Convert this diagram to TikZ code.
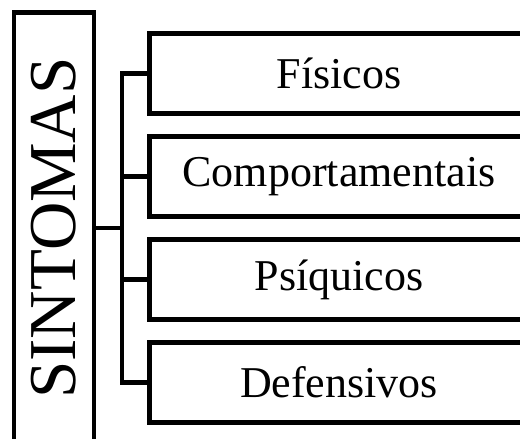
\documentclass[tikz,border=0pt]{standalone}
\usepackage{fontspec}
\setmainfont{Liberation Serif}
\usetikzlibrary{positioning}

\tikzset{caixa/.style={draw,line width=4.5bp,minimum width=379bp,minimum height=80bp,inner sep=0pt,font=\fontsize{44bp}{50bp}\selectfont}}

\begin{document}
\begin{tikzpicture}[x=1bp,y=1bp,line width=4.5bp]
\useasboundingbox (0,0) rectangle (520,439);
\node (sint) at (54,211)[draw,minimum width=80bp,minimum height=431bp,inner sep=0pt,font=\fontsize{67bp}{70bp}\selectfont]{\rotatebox{90}{SINTOMAS}};

\node (fis) at (339,365.5)[caixa]{Físicos};
\node (com) at (339,262.5)[caixa]{Comportamentais};
\node (psi) at (339,159.5)[caixa]{Psíquicos};
\node (def) at (339,56.5)[caixa]{Defensivos};

\coordinate (tr) at (122,211);
\draw (sint.east) -- (tr);
\draw (fis.west) -- (fis.west -| tr) -- (def.west -| tr) -- (def.west);
\draw (com.west) -- (com.west -| tr);
\draw (psi.west) -- (psi.west -| tr);

\end{tikzpicture}
\end{document}
